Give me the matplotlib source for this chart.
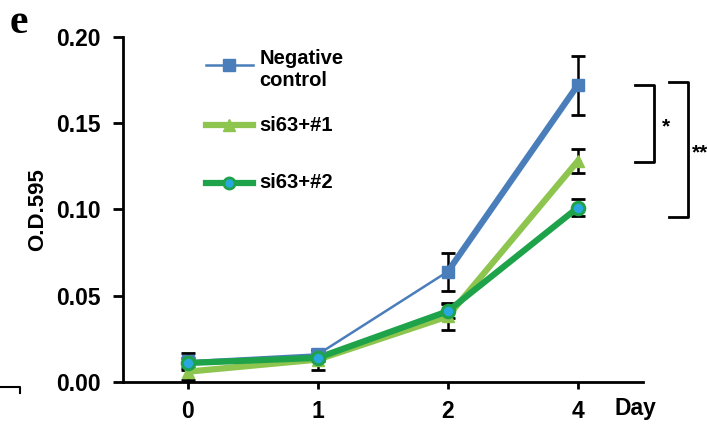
import matplotlib
matplotlib.use("Agg")
import matplotlib.pyplot as plt
from matplotlib.lines import Line2D

# data
days = ["0", "1", "2", "4"]
neg_ctrl = [0.012, 0.016, 0.064, 0.172]
neg_err = [0.005, 0.002, 0.011, 0.017]
si1 = [0.006, 0.013, 0.038, 0.128]
si1_err = [0.005, 0.006, 0.008, 0.007]
si2 = [0.011, 0.014, 0.041, 0.101]
si2_err = [0.003, 0.002, 0.004, 0.005]
yticks = [0.00, 0.05, 0.10, 0.15, 0.20]

blue = "#4a7ebb"
lgreen = "#8dc54e"
dgreen = "#1fa34a"
cyan = "#29a8e0"

plt.rcParams['font.family'] = ['Liberation Sans', 'DejaVu Sans']

fig = plt.figure(figsize=(7.07, 4.25), dpi=100)
ax = fig.add_axes([0.174, 0.1012, 0.735, 0.812])
x = list(range(len(days)))

# error bars
for vals, errs in [(neg_ctrl, neg_err), (si1, si1_err), (si2, si2_err)]:
    ax.errorbar(x, vals, yerr=errs, fmt="none", ecolor="black",
                elinewidth=1.8, capsize=5, capthick=2, zorder=2)

# negative control: thin up to day 2, thick after
ax.plot(x[:3], neg_ctrl[:3], color=blue, lw=1.8, zorder=3)
ax.plot(x[2:], neg_ctrl[2:], color=blue, lw=4.5, zorder=3)
ax.plot(x, neg_ctrl, ls="none", marker="s", ms=9, color=blue, zorder=4)

ax.plot(x, si1, color=lgreen, lw=4.5, zorder=3)
ax.plot(x, si1, ls="none", marker="^", ms=9, color=lgreen, zorder=4)

ax.plot(x, si2, color=dgreen, lw=4.5, zorder=3)
ax.plot(x, si2, ls="none", marker="o", ms=9, mfc=cyan, mec=dgreen,
        mew=2.2, zorder=5)

ax.set_xlim(-0.5, 3.5)
ax.set_ylim(0, 0.20)
ax.set_xticks(x)
ax.set_xticklabels(days)
ax.set_yticks(yticks)
ax.set_yticklabels(["%.2f" % v for v in yticks])
for s in ["top", "right"]:
    ax.spines[s].set_visible(False)
for s in ["left", "bottom"]:
    ax.spines[s].set_linewidth(2)
ax.tick_params(axis="y", direction="out", length=7, width=2, labelsize=16.5, pad=9)
ax.tick_params(axis="x", direction="out", length=5, width=2, labelsize=16.5, pad=8)
for lab in ax.get_xticklabels() + ax.get_yticklabels():
    lab.set_fontweight("bold")
ax.set_ylabel("O.D.595", fontsize=16, fontweight="bold", labelpad=6)

# hand-made legend
leg = [(0.919, dict(color=blue, lw=1.8, marker="s", ms=9), "Negative\ncontrol"),
       (0.744, dict(color=lgreen, lw=4.5, marker="^", ms=9), "si63+#1"),
       (0.578, dict(color=dgreen, lw=4.5, marker="o", ms=8, mfc=cyan,
                    mec=dgreen, mew=2), "si63+#2")]
for yy, kw, txt in leg:
    ax.add_line(Line2D([0.16, 0.25], [yy, yy], transform=ax.transAxes,
                       color=kw["color"], lw=kw["lw"]))
    ax.add_line(Line2D([0.203], [yy], transform=ax.transAxes, ls="none",
                       marker=kw["marker"], ms=kw["ms"], color=kw["color"],
                       mfc=kw.get("mfc", kw["color"]), mec=kw.get("mec", kw["color"]),
                       mew=kw.get("mew", 1)))
    va = "top" if "\n" in txt else "center"
    ty = yy + 0.045 if "\n" in txt else yy
    ax.text(0.262, ty, txt, transform=ax.transAxes, fontsize=14.5,
            fontweight="bold", va=va, ha="left", linespacing=1.15)

# significance brackets and other figure annotations (pixel coords)
def px(xp, yp):
    return xp / 707, 1 - yp / 425

def bracket(x0, x1, y0, y1):
    xs = [px(x0, 0)[0], px(x1, 0)[0], px(x1, 0)[0], px(x0, 0)[0]]
    ys = [px(0, y0)[1], px(0, y0)[1], px(0, y1)[1], px(0, y1)[1]]
    fig.add_artist(Line2D(xs, ys, color="black", lw=2, transform=fig.transFigure))

bracket(635, 654, 85, 162)
bracket(669, 688, 82, 217)
fig.text(*px(666, 127), "*", fontsize=15, fontweight="bold", ha="center", va="center")
fig.text(*px(692, 153), "**", fontsize=15, fontweight="bold", ha="left", va="center")
fig.add_artist(Line2D([0, px(20, 0)[0], px(20, 0)[0]],
                      [px(0, 387)[1], px(0, 387)[1], px(0, 393)[1]],
                      color="black", lw=1.5, transform=fig.transFigure))

fig.text(*px(635, 409), "Day", fontsize=16.5, fontweight="bold", ha="center", va="center")
fig.text(*px(19, 23), "e", fontsize=30, fontweight="bold", ha="center", va="center",
         family=["Liberation Serif", "DejaVu Serif"])

fig.savefig("out.png", dpi=100)
